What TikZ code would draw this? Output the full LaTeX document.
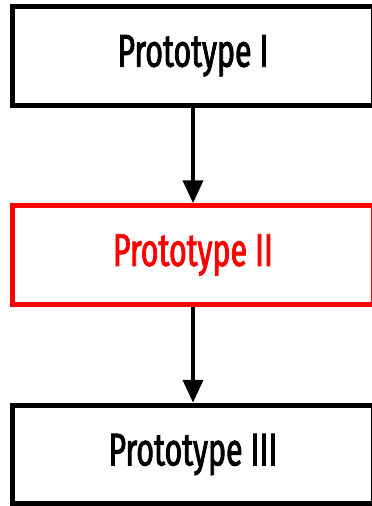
\documentclass[tikz,border=0pt]{standalone}
\usepackage{fontspec}
\setmainfont{Fira Sans}[FakeStretch=0.66, FakeBold=1.8]
\usetikzlibrary{arrows.meta}
\tikzset{
  protobox/.style={draw=black, line width=5pt, minimum width=361pt, minimum height=98.5pt, inner sep=0pt, font=\fontsize{46}{50}\selectfont, text=black},
  redbox/.style={protobox, draw=red, text=red},
  flowarrow/.style={line width=4pt, -{Triangle[length=23pt,width=20pt]}}
}
\begin{document}
\begin{tikzpicture}[x=1pt,y=-1pt]
\useasboundingbox (0,0) rectangle (372,506);
\clip (0,0) rectangle (372,506);
\node[protobox] (b1) at (193,55.75) {Prototype I};
\node[redbox] (b2) at (193,255) {Prototype II};
\node[protobox] (b3) at (193,454.5) {Prototype III};
\draw[flowarrow] (b1) -- (b2);
\draw[flowarrow] (b2) -- (b3);
\end{tikzpicture}
\end{document}
